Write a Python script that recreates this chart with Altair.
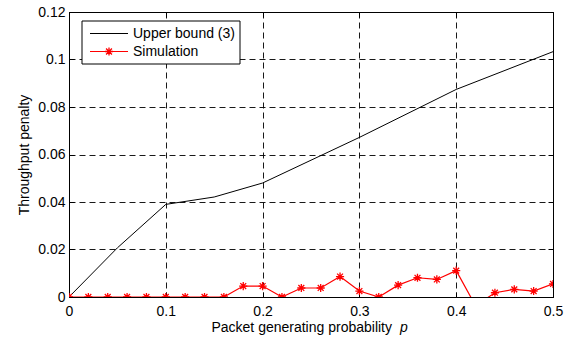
import altair as alt
import pandas as pd

# ---- data ----
x_ub = [0.0, 0.05, 0.1, 0.15, 0.2, 0.3, 0.4, 0.5]
y_ub = [0.0, 0.0207, 0.0390, 0.0421, 0.0480, 0.0672, 0.0874, 0.1033]

x_sim = [0.0, 0.02, 0.04, 0.06, 0.08, 0.10, 0.12, 0.14, 0.16, 0.18, 0.20, 0.22, 0.24,
         0.26, 0.28, 0.30, 0.32, 0.34, 0.36, 0.38, 0.40, 0.42, 0.44, 0.46, 0.48, 0.50]
y_sim = [0, 0, 0, 0, 0, 0, 0, 0, 0, 0.0046, 0.0046, 0, 0.0038,
         0.0038, 0.0086, 0.0025, 0, 0.0050, 0.0081, 0.0074, 0.0111, -0.0037, 0.0018, 0.0032, 0.0025, 0.0055]

x_ticks = [0, 0.1, 0.2, 0.3, 0.4, 0.5]
y_ticks = [0, 0.02, 0.04, 0.06, 0.08, 0.1, 0.12]
series_names = ["Upper bound (3)", "Simulation"]
x_title = "Packet generating probability"
x_title_var = "p"
y_title = "Throughput penalty"

FONT = "Liberation Sans"
FS = 14
W, H = 484, 285

ub_df = pd.DataFrame({"p": x_ub, "v": y_ub})
sim_df = pd.DataFrame({"p": x_sim, "v": y_sim})

xs = alt.Scale(domain=[0, 0.5], nice=False, zero=False)
ys = alt.Scale(domain=[0, 0.12], nice=False, zero=False)

main_x = alt.Axis(values=x_ticks, labelExpr="datum.value == 0 ? '0' : format(datum.value, '.1~f')",
                  grid=True, gridColor="#000000", gridDash=[6, 4], gridWidth=1, gridOpacity=0.9,
                  ticks=False, domain=False, labelPadding=7, labelFontSize=FS, labelFont=FONT,
                  labelColor="#000000", title=None, labelFlush=False)
main_y = alt.Axis(values=y_ticks, labelExpr="datum.value == 0 ? '0' : format(datum.value, '~g')",
                  grid=True, gridColor="#000000", gridDash=[6, 4], gridWidth=1, gridOpacity=0.9,
                  ticks=False, domain=False, labelPadding=4, labelFontSize=FS, labelFont=FONT,
                  labelColor="#000000", title=y_title, titleFont=FONT, titleFontSize=FS,
                  titleFontWeight="normal", titleColor="#000000", titleX=-45, titleY=H / 2,
                  titleBaseline="middle", titleAngle=-90, labelFlush=False)


def tick_axis(values, orient):
    return alt.Axis(values=values, orient=orient, offset=-5, tickSize=5, tickColor="#000000",
                    tickWidth=1, labels=False, domain=False, grid=False, title=None)


ub_line = alt.Chart(ub_df).mark_line(color="#000000", strokeWidth=1, clip=True).encode(
    x=alt.X("p:Q", scale=xs, axis=main_x),
    y=alt.Y("v:Q", scale=ys, axis=main_y),
)

sim_line = alt.Chart(sim_df).mark_line(color="#FF0000", strokeWidth=1.2, clip=True).encode(
    x=alt.X("p:Q", scale=xs, axis=tick_axis(x_ticks, "top")),
    y=alt.Y("v:Q", scale=ys, axis=tick_axis(y_ticks, "right")),
)

STAR = "M-1,0L1,0M0,-1L0,1M-0.72,-0.72L0.72,0.72M-0.72,0.72L0.72,-0.72"
sim_pts = alt.Chart(sim_df).mark_point(shape=STAR, filled=False, color="#FF0000", strokeWidth=1.3,
                                       size=66, opacity=1, clip=True).encode(
    x=alt.X("p:Q", scale=xs, axis=tick_axis(x_ticks, "bottom")),
    y=alt.Y("v:Q", scale=ys, axis=tick_axis(y_ticks, "left")),
)

# ---- legend (drawn by hand, MATLAB style) ----
leg_box = alt.Chart().mark_rect(fill="#FFFFFF", stroke="#000000", strokeWidth=1).encode(
    x=alt.value(13), x2=alt.value(171), y=alt.value(9), y2=alt.value(52))
leg_ub = alt.Chart().mark_rule(color="#000000", strokeWidth=1).encode(
    x=alt.value(21), x2=alt.value(59), y=alt.value(21.5))
leg_sim = alt.Chart().mark_rule(color="#FF0000", strokeWidth=1.2).encode(
    x=alt.value(21), x2=alt.value(59), y=alt.value(39.5))
leg_star = alt.Chart().mark_point(shape=STAR, filled=False, color="#FF0000", strokeWidth=1.3,
                                  size=66, opacity=1).encode(x=alt.value(40), y=alt.value(39.5))
leg_t1 = alt.Chart().mark_text(align="left", baseline="middle", font=FONT, fontSize=FS,
                               color="#000000").encode(
    x=alt.value(64), y=alt.value(21.5), text=alt.value(series_names[0]))
leg_t2 = alt.Chart().mark_text(align="left", baseline="middle", font=FONT, fontSize=FS,
                               color="#000000").encode(
    x=alt.value(64), y=alt.value(39.5), text=alt.value(series_names[1]))

# ---- x title with italic p ----
xt1 = alt.Chart().mark_text(align="right", baseline="alphabetic", font=FONT, fontSize=FS,
                            color="#000000").encode(
    x=alt.value(323), y=alt.value(320), text=alt.value(x_title))
xt2 = alt.Chart().mark_text(align="left", baseline="alphabetic", font=FONT, fontSize=FS,
                            fontStyle="italic", color="#000000").encode(
    x=alt.value(331), y=alt.value(320), text=alt.value(x_title_var))

chart = alt.layer(
    ub_line, sim_line, sim_pts,
    leg_box, leg_ub, leg_sim, leg_star, leg_t1, leg_t2, xt1, xt2,
).resolve_axis(x="independent", y="independent").properties(
    width=W, height=H,
    autosize=alt.AutoSizeParams(type="none"),
    padding={"left": 69, "top": 12, "right": 21, "bottom": 41},
    background="#FFFFFF",
).configure_view(stroke="#000000", strokeWidth=1)

chart.save("out.html", embed_options={"renderer": "svg", "actions": False})
